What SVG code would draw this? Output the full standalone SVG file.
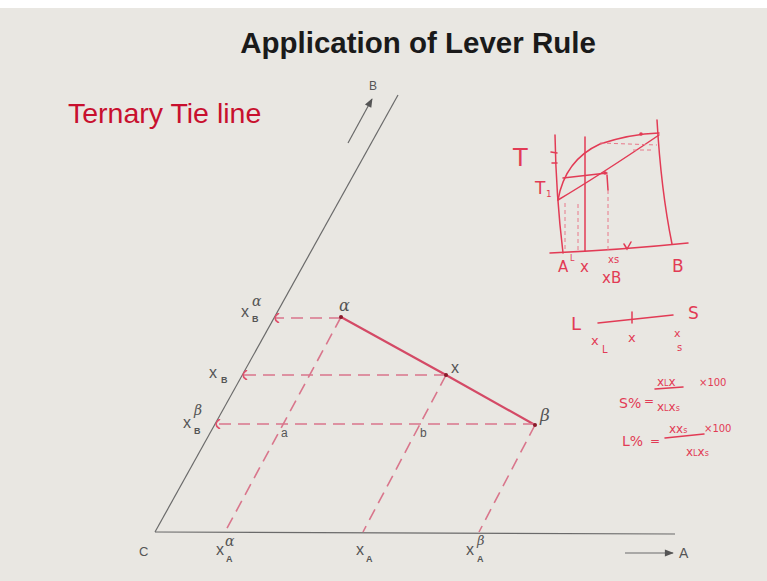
<svg xmlns="http://www.w3.org/2000/svg" width="767" height="581" viewBox="0 0 767 581">
<defs>
<style>
.ax{stroke:#6a6a6a;stroke-width:1.2;fill:none}
.dash{stroke:#d9768c;stroke-width:1.6;fill:none;stroke-dasharray:12 7}
.tie{stroke:#d44a66;stroke-width:2.2;fill:none}
.lbl{font-family:"Liberation Sans",Arial,sans-serif;fill:#555}
.sub{font-family:"Liberation Sans",Arial,sans-serif;fill:#555;font-size:9px;font-weight:bold}
.gr{font-family:"DejaVu Serif","Liberation Serif",serif;fill:#555;font-style:italic}
.ink{stroke:#e23b55;stroke-width:1.5;fill:none;stroke-linecap:round}
.inkd{stroke:#e8788a;stroke-width:1;fill:none;stroke-dasharray:4 3}
.hw{font-family:"DejaVu Sans",sans-serif;fill:#e23b55}
</style>
<marker id="tick" viewBox="0 0 10 10" refX="4" refY="5" markerWidth="10" markerHeight="10" markerUnits="userSpaceOnUse" orient="0">
<path d="M8,0 Q0,5 8,10" stroke="#e0506c" stroke-width="1.6" fill="none"/>
</marker>
<marker id="arr" viewBox="0 0 10 10" refX="9" refY="5" markerWidth="12" markerHeight="9" markerUnits="userSpaceOnUse" orient="auto">
<path d="M0,1 L10,5 L0,9 Z" fill="#555"/>
</marker>
</defs>
<rect width="767" height="581" fill="#e9e7e2"/>
<rect width="767" height="8" fill="#ffffff"/>

<text x="418" y="53" text-anchor="middle" font-family="Liberation Sans,Arial,sans-serif" font-weight="bold" font-size="29.5" fill="#1a1a1a">Application of Lever Rule</text>
<text x="68" y="123" font-family="Liberation Sans,Arial,sans-serif" font-size="28.5" fill="#c8102e">Ternary Tie line</text>

<g id="axes">
<path class="ax" d="M155,532 L398,95"/>
<path class="ax" d="M155,532 L675,534"/>
<path class="ax" d="M348,143 L372,99" marker-end="url(#arr)"/>
<path class="ax" d="M625,553 L673,553" marker-end="url(#arr)"/>
<text class="lbl" x="369" y="90" font-size="12">B</text>
<text class="lbl" x="679" y="558" font-size="14">A</text>
<text class="lbl" x="139" y="556" font-size="13">C</text>
</g>

<g id="connectors">
<path class="tie" d="M341,317 L446,375 L535,425"/>
<path class="dash" d="M341,318 L275,318" marker-end="url(#tick)"/>
<path class="dash" d="M446,375 L243,375" marker-end="url(#tick)"/>
<path class="dash" d="M535,424 L216,424" marker-end="url(#tick)"/>
<path class="dash" d="M341,317 L225,532"/>
<path class="dash" d="M446,375 L363,532"/>
<path class="dash" d="M535,425 L479,532"/>
</g>

<g id="node-alpha">
<circle cx="341" cy="317" r="2" fill="#8a1a2a"/>
<text class="gr" x="339" y="311" font-size="16">α</text>
</g>
<g id="node-x">
<circle cx="446" cy="375" r="2" fill="#8a1a2a"/>
<text class="lbl" x="451" y="373" font-size="16">x</text>
</g>
<g id="node-beta">
<circle cx="535" cy="425" r="2" fill="#8a1a2a"/>
<text class="gr" x="540" y="421" font-size="17">β</text>
</g>
<g id="node-a"><text class="lbl" x="281" y="437" font-size="12">a</text></g>
<g id="node-b"><text class="lbl" x="420" y="437" font-size="12">b</text></g>

<g id="label-xB-alpha">
<text class="lbl" x="241" y="317" font-size="16">x</text>
<text class="gr" x="252" y="306" font-size="14">α</text>
<text class="sub" x="252" y="322">B</text>
</g>
<g id="label-xB">
<text class="lbl" x="209" y="378" font-size="16">x</text>
<text class="sub" x="221" y="383">B</text>
</g>
<g id="label-xB-beta">
<text class="lbl" x="183" y="428" font-size="16">x</text>
<text class="gr" x="194" y="415" font-size="14">β</text>
<text class="sub" x="194" y="434">B</text>
</g>
<g id="label-xA-alpha">
<text class="lbl" x="216" y="555" font-size="16">x</text>
<text class="gr" x="225" y="546" font-size="14">α</text>
<text class="sub" x="226" y="562">A</text>
</g>
<g id="label-xA">
<text class="lbl" x="356" y="555" font-size="16">x</text>
<text class="sub" x="366" y="562">A</text>
</g>
<g id="label-xA-beta">
<text class="lbl" x="466" y="555" font-size="16">x</text>
<text class="gr" x="477" y="545" font-size="13">β</text>
<text class="sub" x="477" y="562">A</text>
</g>

<g id="sketch-phase-diagram">
<path class="ink" d="M555,135 Q556,195 563,253"/>
<path class="ink" d="M550,253 Q620,250 688,243"/>
<path class="ink" d="M657,120 Q661,190 672,244"/>
<path class="ink" d="M585,137 L585,251"/>
<path class="ink" d="M558,200 Q565,160 600,144 Q630,134 659,133"/>
<path class="ink" d="M558,200 Q600,175 659,135"/>
<path class="ink" d="M563,178 L607,173"/>
<circle cx="605" cy="173" r="1.8" fill="#e23b55"/>
<circle cx="641" cy="134" r="1.8" fill="#e23b55"/>
<path class="ink" d="M607,175 L608,190"/>
<path class="inkd" d="M608,190 L608,250"/>
<path class="inkd" d="M600,143 L657,145"/>
<path class="inkd" d="M633,150 L654,150"/>
<path class="inkd" d="M565,203 L565,251"/>
<path class="inkd" d="M578,204 L578,251"/>
<path class="ink" d="M551,152 L557,153"/>
<path class="ink" d="M552,163 L557,163"/>
<path class="ink" d="M624,244 L627,249 L631,242"/>
<text class="hw" x="513" y="166" font-size="24">T</text>
<text class="hw" x="535" y="194" font-size="17">T</text>
<text class="hw" x="546" y="197" font-size="9">1</text>
<text class="hw" x="558" y="272" font-size="15">A</text>
<text class="hw" x="570" y="261" font-size="8">L</text>
<text class="hw" x="580" y="272" font-size="15">x</text>
<text class="hw" x="608" y="263" font-size="10">xs</text>
<text class="hw" x="602" y="283" font-size="15">xB</text>
<text class="hw" x="672" y="272" font-size="17">B</text>
</g>

<g id="sketch-lever">
<text class="hw" x="571" y="330" font-size="18">L</text>
<path class="ink" d="M598,323 Q635,319 673,315"/>
<path class="ink" d="M632,312 L632,323"/>
<text class="hw" x="688" y="319" font-size="17">S</text>
<text class="hw" x="591" y="345" font-size="13">x</text>
<text class="hw" x="602" y="353" font-size="10">L</text>
<text class="hw" x="628" y="342" font-size="13">x</text>
<text class="hw" x="674" y="337" font-size="11">x</text>
<text class="hw" x="677" y="351" font-size="10">s</text>
</g>

<g id="sketch-formulas">
<text class="hw" x="619" y="408" font-size="14">S%</text>
<text class="hw" x="644" y="405" font-size="12">=</text>
<text class="hw" x="657" y="386" font-size="12">x<tspan font-size="8">L</tspan>x</text>
<path class="ink" d="M655,389 L683,387"/>
<text class="hw" x="657" y="411" font-size="12">x<tspan font-size="8">L</tspan>x<tspan font-size="8">s</tspan></text>
<text class="hw" x="699" y="386" font-size="10">×100</text>
<text class="hw" x="622" y="446" font-size="14">L%</text>
<text class="hw" x="650" y="445" font-size="12">=</text>
<text class="hw" x="669" y="433" font-size="12">xx<tspan font-size="8">s</tspan></text>
<path class="ink" d="M665,438 L704,434"/>
<text class="hw" x="686" y="456" font-size="12">x<tspan font-size="8">L</tspan>x<tspan font-size="8">s</tspan></text>
<text class="hw" x="704" y="432" font-size="10">×100</text>
</g>
</svg>
